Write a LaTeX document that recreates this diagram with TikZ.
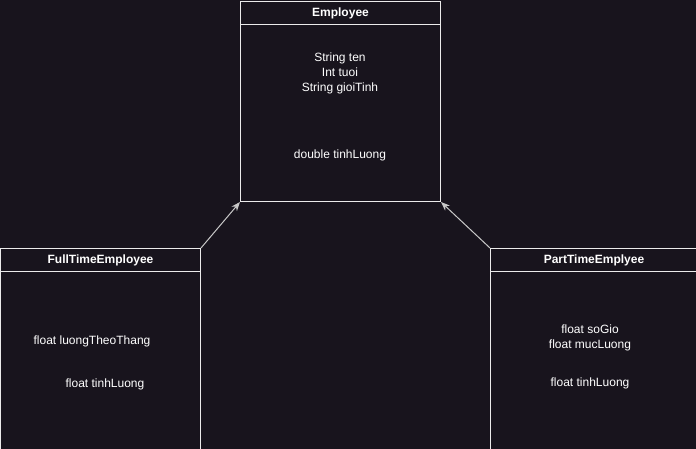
\documentclass[tikz,border=0pt]{standalone}
\usepackage{fontspec}
\setmainfont{Liberation Sans}
\usetikzlibrary{arrows.meta}
\definecolor{bg}{RGB}{24,20,29}
\definecolor{edge}{RGB}{235,235,235}
\definecolor{link}{RGB}{200,200,200}
\tikzset{
    classbox/.style={draw=edge,line width=1pt,minimum width=200pt,minimum height=200pt,anchor=north west,inner sep=0pt},
    headbox/.style={draw=edge,line width=1pt,minimum height=23pt,anchor=north,inner sep=0pt,font=\fontsize{12}{14}\selectfont\bfseries,text=white},
    field/.style={text=white,font=\fontsize{12}{15}\selectfont,align=center,inner sep=0pt},
    inherit/.style={draw=link,line width=1pt,-{Stealth[length=9pt,width=7pt,fill=link]}}
}
\begin{document}
\begin{tikzpicture}[x=1pt,y=-1pt]
    \fill[bg] (0,0) rectangle (696,449);
    \useasboundingbox (0,0) rectangle (696,449);
    % Employee
    \node[classbox] (emp) at (240,1) {};
    \node[headbox,minimum width=200pt] (emphead) at (emp.north) {Employee};
    \node[field] (empattr) at (340,73) {String ten\\Int tuoi\\String gioiTinh};
    \node[field] (empop) at (340,155) {double tinhLuong};
    % FullTimeEmployee
    \node[classbox,minimum height=202pt] (full) at (0,248) {};
    \node[headbox,minimum width=200pt] (fullhead) at (full.north) {FullTimeEmployee};
    \node[field] (fullattr) at (92,341) {float luongTheoThang};
    \node[field] (fullop) at (105,384) {float tinhLuong};
    % PartTimeEmplyee
    \node[classbox,minimum width=207pt,minimum height=202pt] (part) at (490,248) {};
    \node[headbox,minimum width=207pt] (parthead) at (part.north) {PartTimeEmplyee};
    \node[field] (partattr) at (590,338) {float soGio\\float mucLuong};
    \node[field] (partop) at (590,383) {float tinhLuong};
    % inheritance
    \draw[inherit] (full.north east) -- (emp.south west);
    \draw[inherit] (part.north west) -- (emp.south east);
\end{tikzpicture}
\end{document}
